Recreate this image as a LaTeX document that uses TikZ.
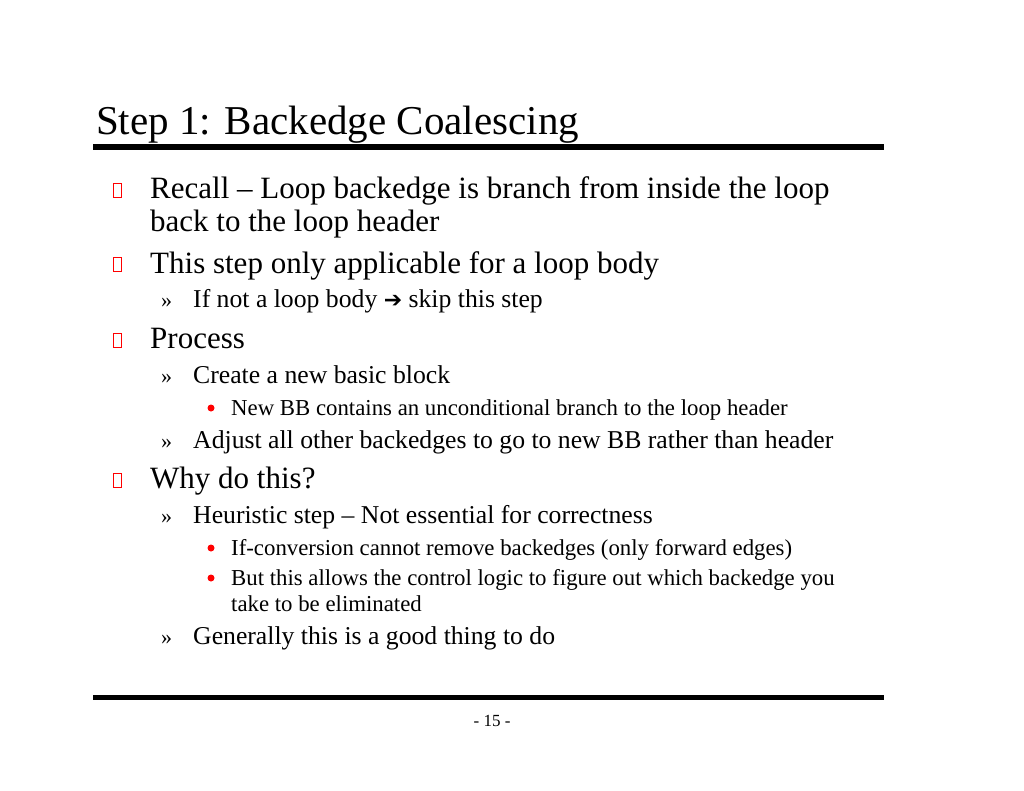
\documentclass[tikz,border=0pt]{standalone}
\usepackage{fontspec}
\setmainfont{Liberation Serif}
\newfontfamily\symf{DejaVu Sans}
\begin{document}
\begin{tikzpicture}[x=1pt,y=-1pt,
  lone/.style={anchor=base west,font=\fontsize{31}{33}\selectfont,inner sep=0},
  ltwo/.style={anchor=base west,font=\fontsize{25.7}{27}\selectfont,inner sep=0},
  lthree/.style={anchor=base west,font=\fontsize{22.8}{24}\selectfont,inner sep=0},
  boxb/.style={draw=red,line width=1pt,minimum width=8pt,minimum height=14pt,inner sep=0},
  raq/.style={anchor=base west,font=\fontsize{22}{24}\selectfont,inner sep=0},
  dotb/.style={fill=red,circle,inner sep=0,minimum size=7pt}]
\useasboundingbox (0,0) rectangle (1024,791);
\node[anchor=base west,inner sep=0,font=\fontsize{41}{43}\selectfont] (title) at (96,135) {Step 1: Backedge Coalescing};
\fill (93,144.5) rectangle (884,150.5);
\fill (93,694.5) rectangle (884,699.5);
\node[anchor=base,inner sep=0,font=\fontsize{17}{19}\selectfont] (pg) at (492,726) {- 15 -};
% level 1
\node[boxb] (b1) at (117,191) {};
\node[lone] (t1) at (150,199) {Recall -- Loop backedge is branch from inside the loop};
\node[lone] (t1b) at (150,232) {back to the loop header};
\node[boxb] (b2) at (117,265) {};
\node[lone] (t2) at (150,273) {This step only applicable for a loop body};
\node[raq] (r1) at (161,308) {»};
\node[ltwo] (t3) at (193,308) {If not a loop body {\symf\bfseries\fontsize{22}{24}\selectfont ➔} skip this step};
\node[boxb] (b3) at (117,340) {};
\node[lone] (t4) at (150,348) {Process};
\node[raq] (r2) at (161,383) {»};
\node[ltwo] (t5) at (193,383) {Create a new basic block};
\node[dotb] (d1) at (211,408) {};
\node[lthree] (t6) at (231,415) {New BB contains an unconditional branch to the loop header};
\node[raq] (r3) at (161,448) {»};
\node[ltwo] (t7) at (193,448) {Adjust all other backedges to go to new BB rather than header};
\node[boxb] (b4) at (117,480) {};
\node[lone] (t8) at (150,488) {Why do this?};
\node[raq] (r4) at (161,523) {»};
\node[ltwo] (t9) at (193,523) {Heuristic step -- Not essential for correctness};
\node[dotb] (d2) at (211,548) {};
\node[lthree] (t10) at (231,555) {If-conversion cannot remove backedges (only forward edges)};
\node[dotb] (d3) at (211,578) {};
\node[lthree] (t11) at (231,585) {But this allows the control logic to figure out which backedge you};
\node[lthree] (t12) at (231,611) {take to be eliminated};
\node[raq] (r5) at (161,644) {»};
\node[ltwo] (t13) at (193,644) {Generally this is a good thing to do};
\end{tikzpicture}
\end{document}
